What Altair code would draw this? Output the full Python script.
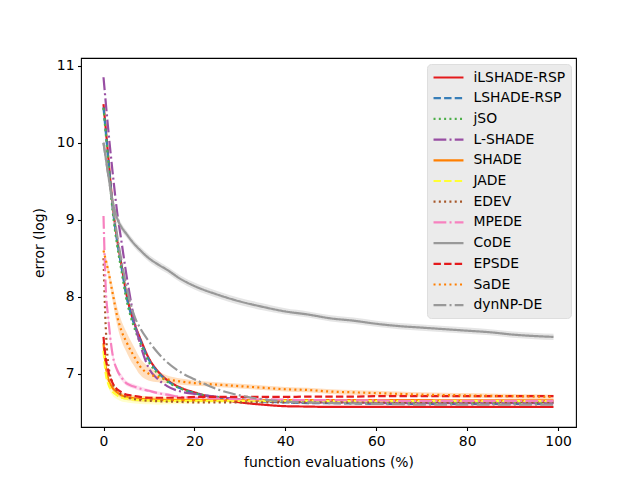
import altair as alt
import pandas as pd

# function evaluations (%)
x_pct = [0, 0.5, 1, 2, 3, 4, 5, 6, 7, 8, 10, 12, 14, 17, 20, 25, 30, 35, 40, 45,
         50, 55, 60, 65, 70, 75, 80, 85, 90, 95, 99]

ilshade_rsp = [10.50, 10.18, 9.85, 9.20, 8.75, 8.40, 8.05, 7.80, 7.62, 7.47, 7.20, 7.03, 6.92, 6.82, 6.76, 6.68,
               6.63, 6.60, 6.58, 6.575, 6.57, 6.57, 6.57, 6.57, 6.57, 6.57, 6.57, 6.57, 6.57, 6.57, 6.57]
lshade_rsp = [10.46, 10.14, 9.82, 9.17, 8.72, 8.37, 8.02, 7.78, 7.60, 7.45, 7.18, 7.02, 6.91, 6.81, 6.75, 6.69,
              6.66, 6.64, 6.63, 6.62, 6.62, 6.615, 6.61, 6.61, 6.61, 6.61, 6.61, 6.61, 6.61, 6.61, 6.61]
jso = [10.45, 10.12, 9.78, 9.12, 8.67, 8.32, 7.98, 7.74, 7.56, 7.41, 7.15, 7.00, 6.90, 6.81, 6.75, 6.70,
       6.67, 6.65, 6.64, 6.63, 6.63, 6.62, 6.62, 6.62, 6.62, 6.62, 6.62, 6.62, 6.62, 6.62, 6.62]
l_shade = [10.85, 10.52, 10.20, 9.62, 9.10, 8.70, 8.30, 7.95, 7.63, 7.40, 7.07, 6.93, 6.84, 6.77, 6.74, 6.70,
           6.67, 6.65, 6.64, 6.63, 6.63, 6.63, 6.62, 6.62, 6.62, 6.62, 6.62, 6.62, 6.62, 6.62, 6.62]
shade = [7.40, 7.10, 6.95, 6.82, 6.76, 6.72, 6.70, 6.69, 6.68, 6.675, 6.67, 6.665, 6.66, 6.66, 6.66, 6.66,
         6.66, 6.66, 6.66, 6.66, 6.66, 6.66, 6.66, 6.66, 6.66, 6.655, 6.655, 6.655, 6.655, 6.655, 6.655]
jade = [7.30, 7.00, 6.88, 6.77, 6.72, 6.69, 6.68, 6.67, 6.665, 6.66, 6.655, 6.65, 6.65, 6.65, 6.65, 6.65,
        6.65, 6.65, 6.65, 6.65, 6.645, 6.645, 6.645, 6.645, 6.645, 6.645, 6.645, 6.645, 6.645, 6.645, 6.645]
edev = [8.50, 7.60, 7.15, 6.88, 6.78, 6.73, 6.70, 6.68, 6.67, 6.66, 6.65, 6.645, 6.64, 6.635, 6.63, 6.63,
        6.63, 6.63, 6.63, 6.63, 6.63, 6.63, 6.63, 6.63, 6.63, 6.63, 6.63, 6.63, 6.63, 6.63, 6.63]
mpede = [9.05, 8.10, 7.75, 7.25, 7.05, 6.95, 6.88, 6.85, 6.83, 6.81, 6.78, 6.75, 6.73, 6.70, 6.69, 6.68,
         6.67, 6.67, 6.665, 6.66, 6.66, 6.655, 6.655, 6.65, 6.65, 6.65, 6.65, 6.65, 6.65, 6.65, 6.65]
code = [10.00, 9.80, 9.60, 9.25, 9.02, 8.90, 8.82, 8.74, 8.67, 8.61, 8.50, 8.42, 8.35, 8.23, 8.14, 8.03,
        7.94, 7.87, 7.81, 7.77, 7.72, 7.69, 7.65, 7.62, 7.60, 7.58, 7.56, 7.54, 7.51, 7.49, 7.48]
epsde = [7.48, 7.20, 7.05, 6.88, 6.80, 6.76, 6.73, 6.72, 6.71, 6.70, 6.69, 6.69, 6.69, 6.69, 6.70, 6.70,
         6.70, 6.70, 6.70, 6.705, 6.705, 6.705, 6.71, 6.71, 6.71, 6.71, 6.71, 6.71, 6.71, 6.71, 6.71]
sade = [8.60, 8.48, 8.35, 8.05, 7.75, 7.55, 7.42, 7.30, 7.20, 7.10, 7.00, 6.96, 6.93, 6.90, 6.88, 6.86,
        6.84, 6.82, 6.80, 6.79, 6.77, 6.76, 6.75, 6.74, 6.73, 6.725, 6.72, 6.715, 6.71, 6.705, 6.70]
dynnp_de = [10.00, 9.80, 9.60, 9.20, 8.80, 8.45, 8.15, 7.90, 7.72, 7.60, 7.42, 7.27, 7.15, 7.02, 6.93, 6.80,
            6.72, 6.67, 6.64, 6.63, 6.62, 6.615, 6.61, 6.605, 6.60, 6.60, 6.60, 6.60, 6.60, 6.60, 6.60]

# half-width of the shaded spread around a few of the mean curves
code_spread = [0.05, 0.05, 0.05, 0.05, 0.05, 0.05, 0.045, 0.045, 0.045, 0.045, 0.045, 0.045, 0.045, 0.045, 0.045, 0.045,
               0.045, 0.045, 0.04, 0.04, 0.04, 0.04, 0.04, 0.04, 0.04, 0.04, 0.04, 0.04, 0.04, 0.04, 0.04]
sade_spread = [0.04, 0.05, 0.07, 0.10, 0.12, 0.13, 0.13, 0.13, 0.12, 0.11, 0.09, 0.07, 0.05, 0.04, 0.035, 0.03,
               0.03, 0.03, 0.03, 0.03, 0.03, 0.03, 0.03, 0.03, 0.03, 0.03, 0.03, 0.03, 0.03, 0.03, 0.03]
jade_spread = [0.02, 0.03, 0.04, 0.05, 0.05, 0.05, 0.05, 0.05, 0.05, 0.05, 0.05, 0.05, 0.045, 0.04, 0.035, 0.03,
               0.025, 0.02, 0.015, 0.01, 0.01, 0.01, 0.01, 0.01, 0.01, 0.01, 0.01, 0.01, 0.01, 0.01, 0.01]
shade_spread = [0.02, 0.03, 0.04, 0.04, 0.04, 0.04, 0.04, 0.04, 0.04, 0.04, 0.04, 0.035, 0.03, 0.03, 0.025, 0.02,
                0.02, 0.015, 0.015, 0.01, 0.01, 0.01, 0.01, 0.01, 0.01, 0.01, 0.01, 0.01, 0.01, 0.01, 0.01]
mpede_spread = [0.03, 0.04, 0.05, 0.05, 0.04, 0.04, 0.03, 0.03, 0.03, 0.03, 0.02, 0.02, 0.02, 0.015, 0.015, 0.01,
                0.01, 0.01, 0.01, 0.01, 0.01, 0.01, 0.01, 0.01, 0.01, 0.01, 0.01, 0.01, 0.01, 0.01, 0.01]

names = ["iLSHADE-RSP", "LSHADE-RSP", "jSO", "L-SHADE", "SHADE", "JADE", "EDEV", "MPEDE",
         "CoDE", "EPSDE", "SaDE", "dynNP-DE"]
values = [ilshade_rsp, lshade_rsp, jso, l_shade, shade, jade, edev, mpede, code, epsde, sade, dynnp_de]
colors = ["#e41a1c", "#377eb8", "#4daf4a", "#984ea3", "#ff7f00", "#ffff33", "#a65628", "#f781bf",
          "#999999", "#e41a1c", "#ff7f00", "#999999"]
dashes = [[1, 0], [7.4, 3.2], [2, 3.3], [12.8, 3.2, 2, 3.2]] * 3
spreads = {"CoDE": code_spread, "SaDE": sade_spread, "JADE": jade_spread, "SHADE": shade_spread,
           "MPEDE": mpede_spread}

rows = []
band_rows = []
for i, (n, v) in enumerate(zip(names, values)):
    for j, (xx, yy) in enumerate(zip(x_pct, v)):
        rows.append({"x": xx, "y": yy, "algo": n, "k": i})
        if n in spreads:
            s = spreads[n][j]
            band_rows.append({"x": xx, "lo": yy - s, "hi": yy + s, "algo": n, "c": colors[i]})

df = pd.DataFrame(rows)
bdf = pd.DataFrame(band_rows)

xscale = alt.Scale(domain=[-4.95, 103.95], nice=False, zero=False)
yscale = alt.Scale(domain=[6.31, 11.10], nice=False, zero=False)

xaxis = alt.Axis(values=[0, 20, 40, 60, 80, 100], title="function evaluations (%)", format="d")
yaxis = alt.Axis(values=[7, 8, 9, 10, 11], title="error (log)", format="d")

bands = alt.Chart(bdf).mark_area(fillOpacity=0.25, interpolate="monotone").encode(
    x=alt.X("x:Q", scale=xscale, axis=xaxis),
    y=alt.Y("lo:Q", scale=yscale, axis=yaxis),
    y2="hi:Q",
    fill=alt.Fill("c:N", scale=None),
    detail="algo:N",
)

legend = alt.Legend(
    title=None, orient="none", legendX=346, legendY=6,
    fillColor="#ebebeb", strokeColor="#dedede", cornerRadius=4, padding=5,
    labelFont="DejaVu Sans", labelFontSize=13.9, labelColor="#000000", labelOffset=16.5,
    symbolType="M-2.14,0L2.14,0", symbolStrokeWidth=2.2, symbolSize=196, symbolOffset=8,
    symbolOpacity=1, rowPadding=4.7,
)

lines = alt.Chart(df).mark_line(strokeWidth=2.2, interpolate="monotone", opacity=1).encode(
    x=alt.X("x:Q", scale=xscale, axis=xaxis),
    y=alt.Y("y:Q", scale=yscale, axis=yaxis),
    color=alt.Color("algo:N", scale=alt.Scale(domain=names, range=colors), sort=names, legend=legend),
    strokeDash=alt.StrokeDash("algo:N", scale=alt.Scale(domain=names, range=dashes), sort=names, legend=legend),
    order="k:Q",
)

chart = alt.layer(bands, lines).properties(
    width=495, height=369,
    autosize=alt.AutoSizeParams(type="none"),
    padding={"left": 73, "top": 50, "right": 56, "bottom": 45},
).configure_view(
    stroke="#000000", strokeWidth=1.1,
).configure_axis(
    grid=False, domain=False, ticks=True, tickColor="#000000", tickSize=3.5, tickWidth=1.1,
    labelFont="DejaVu Sans", labelFontSize=13.9, labelColor="#000000", labelPadding=3.5,
    titleFont="DejaVu Sans", titleFontSize=13.9, titleColor="#000000", titleFontWeight="normal",
).configure_axisX(
    titlePadding=8,
).configure_axisY(
    titlePadding=10,
)

chart.save("out.html", embed_options={"renderer": "svg", "actions": False})
